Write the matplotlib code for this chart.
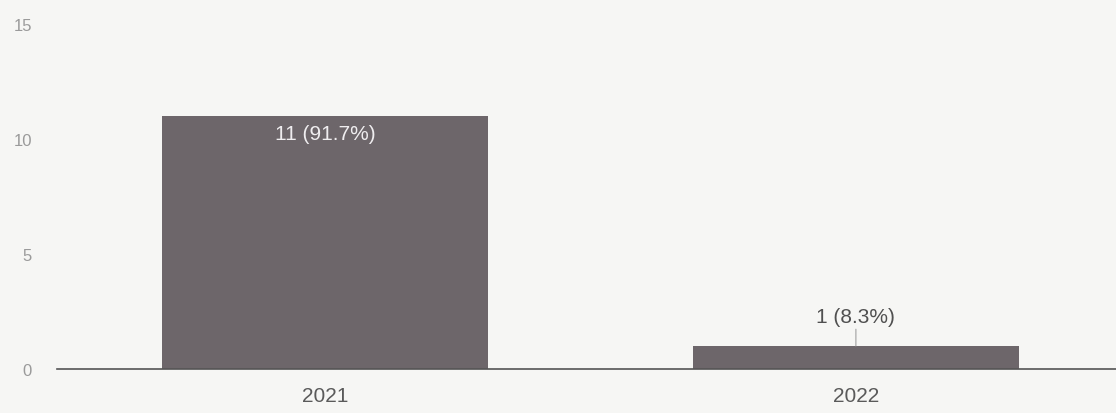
import matplotlib.pyplot as plt

years = ["2021", "2022"]
counts = [11, 1]
percents = [91.7, 8.3]
yticks = [0, 5, 10, 15]

plt.rcParams['font.family'] = ['Liberation Sans', 'DejaVu Sans']

fig = plt.figure(figsize=(11.16, 4.14), dpi=100, facecolor='#f6f6f4')
ax = fig.add_axes([57 / 1116, 44 / 414, 1 - 57 / 1116, 345 / 414])
ax.set_facecolor('#f6f6f4')

x = list(range(len(years)))
bars = ax.bar(x, counts, width=0.613, color='#6d666a', zorder=2)

ax.set_xlim(-0.505, 1.49)
ax.set_ylim(0, 15)
ax.set_yticks(yticks)
ax.set_xticks(x)
ax.set_xticklabels(years)
ax.tick_params(axis='both', length=0)
ax.tick_params(axis='y', pad=18, colors='#9a9a9a', labelsize=12)
ax.tick_params(axis='x', pad=12, colors='#5a5a5a', labelsize=15)

for side in ['top', 'right', 'left']:
    ax.spines[side].set_visible(False)
ax.spines['bottom'].set_color('#555555')
ax.spines['bottom'].set_linewidth(1.2)

for xi, c, p in zip(x, counts, percents):
    label = f"{c} ({p}%)"
    if c > 5:
        ax.text(xi, c - 0.75, label, ha='center', va='center', color='#efedef', fontsize=15)
    else:
        ax.annotate(label, xy=(xi, c), xytext=(xi, c + 0.85), ha='center', va='bottom',
                    color='#505050', fontsize=15,
                    arrowprops=dict(arrowstyle='-', color='#a0a0a0', lw=0.8, shrinkA=0, shrinkB=0))

fig.savefig('out.png', dpi=100, facecolor=fig.get_facecolor())
